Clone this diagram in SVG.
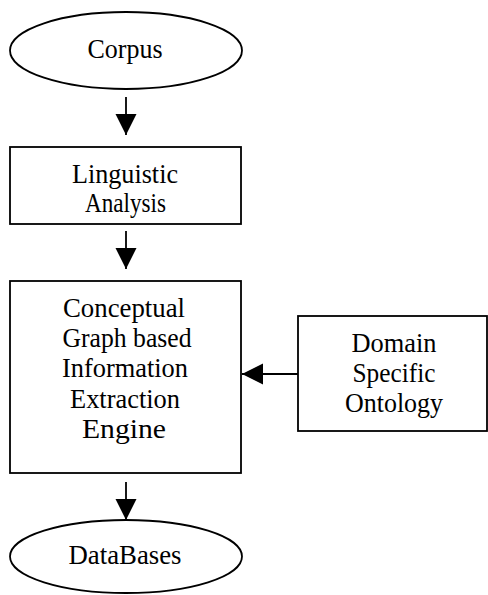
<svg xmlns="http://www.w3.org/2000/svg" width="488" height="595" viewBox="0 0 488 595">
<style>
.shape{fill:#fff;stroke:#000;stroke-width:1.8}
.t{font-family:"Liberation Serif","Times New Roman",serif;font-size:28px;fill:#000;text-anchor:middle}
.c{stroke:#000;stroke-width:1.8;fill:none}
</style>
<defs>
<marker id="arr" markerUnits="userSpaceOnUse" markerWidth="22" markerHeight="22" refX="21" refY="10.5" orient="auto" viewBox="0 0 22 22">
<path d="M0,0 L21,10.5 L0,21 z" fill="#000"/>
</marker>
</defs>
<rect width="488" height="595" fill="#fff"/>
<g id="corpus">
<ellipse class="shape" cx="126" cy="50.5" rx="116" ry="38.5"/>
<text class="t" x="125" y="58" textLength="75" lengthAdjust="spacingAndGlyphs">Corpus</text>
</g>
<g id="linguistic">
<rect class="shape" x="10" y="147" width="231" height="77"/>
<text class="t" x="125" y="182.5" textLength="106" lengthAdjust="spacingAndGlyphs">Linguistic</text>
<text class="t" x="125.5" y="212" textLength="81" lengthAdjust="spacingAndGlyphs">Analysis</text>
</g>
<g id="engine">
<rect class="shape" x="10" y="281" width="231" height="192"/>
<text class="t" x="124" y="317" textLength="122" lengthAdjust="spacingAndGlyphs">Conceptual</text>
<text class="t" x="127" y="347" textLength="129" lengthAdjust="spacingAndGlyphs">Graph based</text>
<text class="t" x="125" y="377" textLength="126" lengthAdjust="spacingAndGlyphs">Information</text>
<text class="t" x="125" y="407.5" textLength="110" lengthAdjust="spacingAndGlyphs">Extraction</text>
<text class="t" x="124" y="438" textLength="84" lengthAdjust="spacingAndGlyphs">Engine</text>
</g>
<g id="ontology">
<rect class="shape" x="298" y="316" width="189" height="115"/>
<text class="t" x="394" y="352" textLength="85" lengthAdjust="spacingAndGlyphs">Domain</text>
<text class="t" x="394" y="382" textLength="83" lengthAdjust="spacingAndGlyphs">Specific</text>
<text class="t" x="394" y="412" textLength="98" lengthAdjust="spacingAndGlyphs">Ontology</text>
</g>
<g id="databases">
<ellipse class="shape" cx="126" cy="556.5" rx="116" ry="36.5"/>
<text class="t" x="125" y="564" textLength="113" lengthAdjust="spacingAndGlyphs">DataBases</text>
</g>
<g id="connectors">
<line class="c" x1="126" y1="97" x2="126" y2="135" marker-end="url(#arr)"/>
<line class="c" x1="126" y1="231" x2="126" y2="269" marker-end="url(#arr)"/>
<line class="c" x1="126" y1="482" x2="126" y2="520" marker-end="url(#arr)"/>
<line class="c" x1="298" y1="374" x2="242" y2="374" marker-end="url(#arr)"/>
</g>
</svg>
